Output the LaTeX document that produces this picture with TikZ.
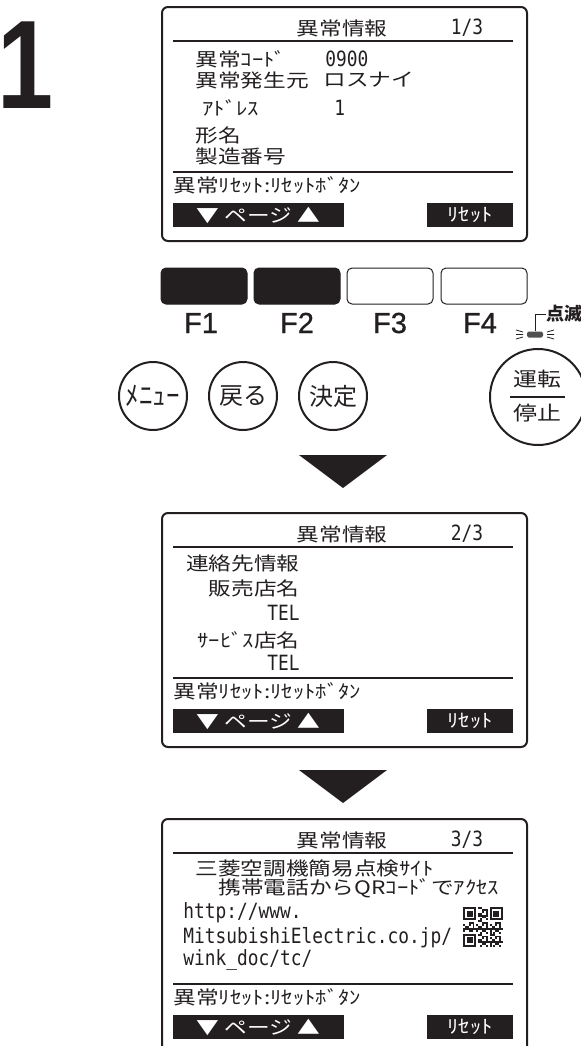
\documentclass[tikz,border=0pt]{standalone}
\usepackage{fontspec}
\setmainfont{Noto Sans CJK JP}[FakeStretch=1.22]
\newfontfamily\keycjk{Noto Sans CJK JP}
\newfontfamily\lcdfont[FakeStretch=0.85]{DejaVu Sans Mono}
\newfontfamily\keyfont[FakeBold=0.8]{Liberation Sans}
\newfontfamily\stepfont[FakeStretch=0.8]{Liberation Sans Bold}
\usetikzlibrary{positioning}
\definecolor{inkblack}{RGB}{35,31,32}
\definecolor{ledgray}{RGB}{80,80,80}

\tikzset{
  screen/.style={draw=inkblack, line width=1pt, rounded corners=3pt},
  hrule/.style={draw=inkblack, line width=1.3pt},
  lcdtext/.style={inner sep=0pt, text=inkblack, font=\fontsize{9.3}{10}\selectfont},
  lcdmono/.style={inner sep=0pt, text=inkblack, font=\lcdfont\fontsize{10.5}{11}\selectfont},
  softkey/.style={fill=inkblack, text=white, inner sep=0pt, minimum height=12pt, font=\fontsize{9.3}{10}\selectfont},
  fkey/.style={draw=inkblack, line width=0.5pt, rounded corners=2.5pt, minimum width=43pt, minimum height=18pt, inner sep=0pt},
  fkeylabel/.style={anchor=base, inner sep=0pt, text=inkblack, font=\keyfont\fontsize{14.5}{15}\selectfont},
  roundkey/.style={circle, draw=inkblack, line width=1pt, minimum size=34pt, inner sep=0pt, text=inkblack, font=\keycjk\fontsize{12}{13}\selectfont},
  flash/.style={draw=inkblack, line width=0.4pt},
}

\begin{document}
\begin{tikzpicture}[x=0.5pt, y=-0.5pt]
  \useasboundingbox (0,0) rectangle (581,1046);
  \clip (0,0) rectangle (581,1046);
  % step number
  \node[anchor=base west, inner sep=0pt, text=inkblack, font=\stepfont\fontsize{63}{63}\selectfont] (stepno) at (-3,108) {1};

  % three screens: frame, title, rules and soft keys
  \foreach \t/\pg in {7/1, 513/2, 819/3}{
    \draw[screen] (162,\t) rectangle (527,\t+234);
    \node[lcdtext] (title\pg) at (342,\t+21) {異常情報};
    \node[lcdmono] (page\pg) at (467,\t+21) {\pg/3};
    \draw[hrule] (173,\t+34) -- (513,\t+34);
    \draw[hrule, line width=1pt] (173,\t+165) -- (513,\t+165);
    \node[lcdtext, anchor=west] (hint\pg) at (173,\t+178) {異常ﾘｾｯﾄ:ﾘｾｯﾄﾎﾞﾀﾝ};
    \node[softkey, minimum width=85.5pt] (pagekey\pg) at (258.5,\t+208) {▼ ページ ▲};
    \node[softkey, minimum width=43pt] (resetkey\pg) at (470,\t+208) {ﾘｾｯﾄ};
  }

  % screen 1/3: error details
  \node[lcdtext, anchor=west] (codelbl) at (195,59) {異常ｺｰﾄﾞ};
  \node[lcdmono, anchor=west] (codeval) at (325,59) {0900};
  \node[lcdtext, anchor=west] (srclbl) at (195,80) {異常発生元};
  \node[lcdtext, anchor=west] (srcval) at (323,80) {ロスナイ};
  \node[lcdtext, anchor=west] (addrlbl) at (202,108) {ｱﾄﾞﾚｽ};
  \node[lcdmono, anchor=west] (addrval) at (334,108) {1};
  \node[lcdtext, anchor=west] (modellbl) at (195,135) {形名};
  \node[lcdtext, anchor=west] (seriallbl) at (195,156) {製造番号};

  % function keys
  \foreach \n/\x/\c/\lx in {1/204/inkblack/201, 2/297/inkblack/297, 3/390/white/390, 4/484/white/480}{
    \node[fkey, fill=\c] (f\n) at (\x,286) {};
    \node[fkeylabel] (f\n lbl) at (\lx,333) {F\n};
  }

  % round keys
  \node[roundkey, font=\keycjk\fontsize{13.5}{14}\selectfont] (menukey) at (153,396) {ﾒﾆｭｰ};
  \node[roundkey] (backkey) at (243,396) {戻る};
  \node[roundkey] (okkey) at (333,396) {決定};
  \node[roundkey, minimum size=48pt] (runkey) at (538,397) {};
  \node[lcdtext, font=\fontsize{9.8}{10}\selectfont] (runlbl) at (537,379) {運転};
  \node[lcdtext, font=\fontsize{9.8}{10}\selectfont] (stoplbl) at (537,413) {停止};
  \draw[inkblack, line width=0.6pt] ([xshift=-14pt]runkey.center) -- ([xshift=13.5pt]runkey.center);

  % blinking lamp
  \node[fill=ledgray, rounded corners=0.8pt, minimum width=8pt, minimum height=3pt, inner sep=0pt] (lamp) at (535,334.5) {};
  \node[anchor=west, inner sep=0pt, text=inkblack, font=\keycjk\bfseries\fontsize{9}{9}\selectfont] (blinklbl) at (546,314) {点滅};
  \draw[inkblack, line width=0.5pt] (lamp.north) |- (blinklbl.west);
  \draw[flash] (516,330) -- (523,332) (516,334.5) -- (523,334.5) (516,339) -- (523,337);
  \draw[flash] (547,332) -- (554,330) (547,334.5) -- (554,334.5) (547,337) -- (554,339);

  % down arrows between screens
  \fill[inkblack] (299,455) -- (387,455) -- (343,488) -- cycle;
  \fill[inkblack] (299,770) -- (387,770) -- (343,803) -- cycle;

  % screen 2/3: contacts
  \node[lcdtext, anchor=east] (contactlbl) at (300,563) {連絡先情報};
  \node[lcdtext, anchor=east] (dealerlbl) at (300,588) {販売店名};
  \node[lcdmono, anchor=east] (dealertel) at (300,613) {TEL};
  \node[lcdtext, anchor=east] (servicelbl) at (300,640) {ｻｰﾋﾞｽ店名};
  \node[lcdmono, anchor=east] (servicetel) at (300,663) {TEL};

  % screen 3/3: check site
  \node[lcdtext, anchor=west] (sitelbl) at (195,868) {三菱空調機簡易点検ｻｲﾄ};
  \node[lcdtext, anchor=west] (qrlbl) at (218,888) {携帯電話からQRｺｰﾄﾞでｱｸｾｽ};
  \node[lcdmono, anchor=west] (url1) at (183,913) {http://www.};
  \node[lcdmono, anchor=west] (url2) at (183,938) {MitsubishiElectric.co.jp/};
  \node[lcdmono, anchor=west] (url3) at (183,960) {wink\textunderscore doc/tc/};

  % QR code
  \begin{scope}[shift={(463,907)}, x=0.95pt, y=-0.95pt]
    \foreach \fx/\fy in {0/0, 14/0, 0/14}{
      \fill[inkblack] (\fx,\fy) rectangle ++(7,7);
      \fill[white] (\fx+1,\fy+1) rectangle ++(5,5);
      \fill[inkblack] (\fx+2,\fy+2) rectangle ++(3,3);
    }
    \foreach \i in {0,...,20}
      \foreach \j in {0,...,20}{
        \pgfmathtruncatemacro{\qzone}{or(or(and(\i<8,\j<8),and(\i>12,\j<8)),and(\i<8,\j>12))}
        \pgfmathtruncatemacro{\qbit}{mod(\i*\i*7+\j*\j*3+\i*\j*5+\i+2*\j,7)<3}
        \ifnum\qzone=0 \ifnum\qbit=1 \fill[inkblack] (\i,\j) rectangle ++(1,1); \fi\fi
      }
  \end{scope}
\end{tikzpicture}
\end{document}
